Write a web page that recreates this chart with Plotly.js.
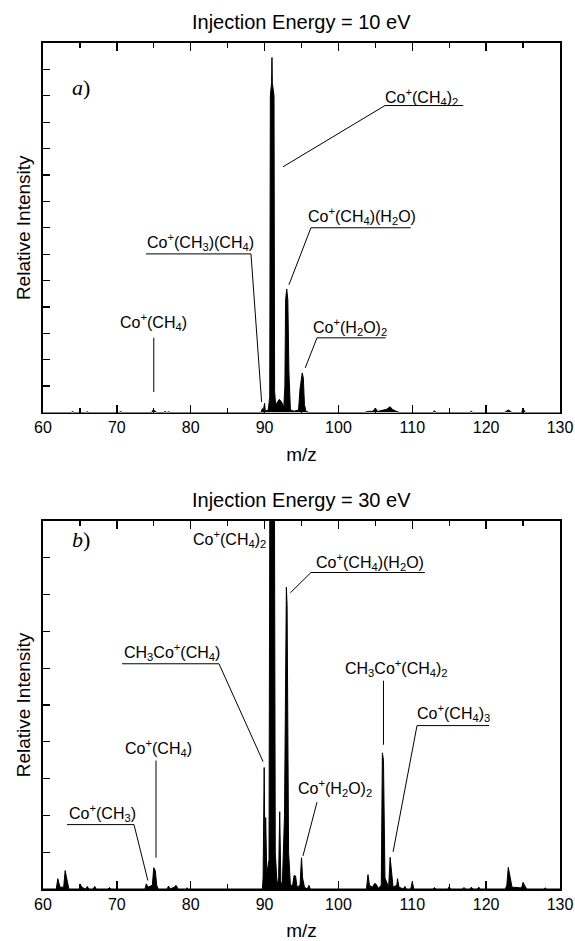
<!DOCTYPE html>
<html><head><meta charset="utf-8">
<script src="https://cdn.plot.ly/plotly-3.0.1.min.js"></script>
<style>html,body{margin:0;padding:0;background:#fff;}#chart{width:575px;height:941px;}</style>
</head><body><div id="chart"></div>
<script>
// ---- Panel a) Injection Energy = 10 eV (relative intensity, arbitrary units) ----
const mzA = [60.0, 63.8, 64.0, 64.2, 65.8, 66.0, 66.2, 70.3, 70.5, 70.7, 74.7, 74.9, 75.1, 75.4, 76.3, 76.5, 76.7, 76.8, 77.0, 77.2,
  89.5, 89.7, 89.8, 90.0, 90.1, 90.5, 90.7, 90.78, 90.95, 91.0, 91.05, 91.28, 91.36, 91.5, 91.8, 92.0, 92.3, 92.6,
  92.75, 92.85, 93.0, 93.15, 93.3, 93.5, 94.0, 94.6, 94.8, 95.0, 95.1, 95.25, 95.4, 95.6, 96.0,
  103.5, 104.0, 104.7, 105.0, 105.3, 106.0, 106.5, 107.0, 107.3, 107.8, 108.3,
  112.8, 113.0, 113.2, 117.8, 118.0, 118.2, 122.5, 123.0, 123.5, 124.8, 125.0, 125.3, 130.0];
const intA = [0, 0, 0.04, 0, 0, 0.03, 0, 0, 0.04, 0, 0, 0.1, 0.08, 0, 0, 0.04, 0, 0, 0.03, 0,
  0, 0.15, 0, 0.35, 0.05, 0.1, 0.6, 12.0, 12.5, 13.45, 12.5, 12.0, 0.8, 0.3, 0.45, 0.5, 0.4, 0.2,
  1.0, 4.27, 4.68, 4.27, 1.5, 0.1, 0.05, 0.1, 0.9, 1.3, 1.5, 1.3, 0.3, 0.05, 0,
  0, 0.04, 0.05, 0.17, 0.04, 0.08, 0.12, 0.22, 0.12, 0.05, 0,
  0, 0.07, 0, 0, 0.05, 0, 0, 0.1, 0, 0, 0.15, 0, 0];

// ---- Panel b) Injection Energy = 30 eV ----
const mzB = [60.0, 61.8, 62.0, 62.3, 62.8, 63.0, 63.2, 63.5, 64.9, 65.1, 65.4, 65.8, 66.0, 66.2, 66.8, 67.0, 67.2, 68.8, 69.0, 69.2,
  73.8, 74.0, 74.2, 74.8, 75.0, 75.2, 75.4, 75.6, 76.8, 77.0, 77.2, 77.8, 78.0, 78.3, 79.3, 79.5, 79.7,
  89.7, 89.8, 89.95, 90.05, 90.15, 90.3, 90.6, 90.75, 91.3, 91.45, 91.7, 91.9, 92.05, 92.2, 92.4,
  92.7, 92.85, 92.95, 93.05, 93.25, 93.5, 93.8, 94.0, 94.2, 94.4, 94.8, 95.0, 95.15, 95.4, 95.8, 96.0, 96.2,
  103.8, 104.0, 104.2, 104.6, 104.9, 105.1, 105.4, 105.8, 105.95, 106.1, 106.3, 106.8, 107.0, 107.15, 107.4,
  107.9, 108.0, 108.2, 108.8, 109.0, 109.2, 109.8, 110.0, 110.2, 112.8, 113.0, 113.2, 114.8, 115.0, 115.2,
  116.8, 117.0, 117.2, 117.8, 118.0, 118.2, 118.8, 119.0, 119.2,
  122.6, 122.8, 123.0, 123.2, 123.5, 124.8, 125.0, 125.2, 125.5, 127.8, 128.0, 128.2, 130.0];
const intB = [0, 0, 0.28, 0.05, 0.05, 0.5, 0.3, 0, 0, 0.1, 0.03, 0, 0.07, 0, 0, 0.07, 0, 0, 0.04, 0,
  0, 0.14, 0.05, 0.1, 0.58, 0.5, 0.1, 0, 0, 0.08, 0, 0.05, 0.1, 0, 0, 0.03, 0,
  0, 0.3, 3.3, 1.0, 1.94, 0.4, 0.8, 14, 14, 1.0, 0.1, 0.3, 2.1, 0.2, 0.1,
  2.0, 7.7, 8.2, 7.7, 1.0, 0.1, 0.1, 0.37, 0.35, 0.05, 0.1, 0.85, 0.3, 0.05, 0, 0.1, 0,
  0, 0.39, 0.1, 0.05, 0.15, 0.13, 0.02, 0.1, 3.7, 3.5, 0.3, 0.05, 0.86, 0.5, 0.05,
  0.1, 0.28, 0.05, 0, 0.07, 0, 0, 0.2, 0, 0, 0.04, 0, 0, 0.06, 0,
  0, 0.04, 0, 0, 0.05, 0, 0, 0.05, 0,
  0, 0.1, 0.59, 0.4, 0.05, 0.03, 0.18, 0.1, 0, 0, 0.03, 0, 0];

const xTickVals = [60, 70, 80, 90, 100, 110, 120, 130];
const titleA = 'Injection Energy = 10 eV';
const titleB = 'Injection Energy = 30 eV';
const xTitle = 'm/z';
const yTitle = 'Relative Intensity';

// peak labels: text, label anchor (m/z, intensity), leader polyline (m/z, intensity)
const labelsA = [
  {t: 'Co<sup>+</sup>(CH<sub>4</sub>)<sub>2</sub>', x: 111.3, y: 11.97, path: [[92.5, 9.31], [106.3, 11.63], [116.9, 11.63]]},
  {t: 'Co<sup>+</sup>(CH<sub>3</sub>)(CH<sub>4</sub>)', x: 81.3, y: 6.47, path: [[89.6, 0.4], [88.16, 6.01], [73.95, 6.01]]},
  {t: 'Co<sup>+</sup>(CH<sub>4</sub>)(H<sub>2</sub>O)', x: 103.2, y: 7.45, path: [[93.3, 4.84], [96.28, 7.0], [109.8, 7.0]]},
  {t: 'Co<sup>+</sup>(H<sub>2</sub>O)<sub>2</sub>', x: 101.6, y: 3.24, path: [[95.5, 1.69], [97.1, 2.83], [106.4, 2.83]]},
  {t: 'Co<sup>+</sup>(CH<sub>4</sub>)', x: 75.0, y: 3.43, path: [[75.0, 0.78], [75.0, 2.83]]}
];
const labelsB = [
  {t: 'Co<sup>+</sup>(CH<sub>4</sub>)<sub>2</sub>', x: 90.5, y: 9.5, anchor: 'right', path: null},
  {t: 'Co<sup>+</sup>(CH<sub>4</sub>)(H<sub>2</sub>O)', x: 104.3, y: 8.89, path: [[93.5, 8.05], [96.28, 8.6], [111.7, 8.6]]},
  {t: 'CH<sub>3</sub>Co<sup>+</sup>(CH<sub>4</sub>)', x: 77.5, y: 6.45, path: [[89.8, 3.46], [83.83, 6.12], [70.7, 6.12]]},
  {t: 'CH<sub>3</sub>Co<sup>+</sup>(CH<sub>4</sub>)<sub>2</sub>', x: 107.8, y: 6.01, path: [[106.1, 3.92], [106.1, 5.66]]},
  {t: 'Co<sup>+</sup>(CH<sub>4</sub>)<sub>3</sub>', x: 115.6, y: 4.79, path: [[107.4, 1.01], [110.64, 4.44], [120.4, 4.44]]},
  {t: 'Co<sup>+</sup>(H<sub>2</sub>O)<sub>2</sub>', x: 99.6, y: 2.75, path: [[95.2, 0.9], [97.1, 2.36]]},
  {t: 'Co<sup>+</sup>(CH<sub>4</sub>)', x: 75.6, y: 3.84, path: [[75.3, 0.85], [75.3, 3.49]]},
  {t: 'Co<sup>+</sup>(CH<sub>3</sub>)', x: 68.0, y: 2.07, path: [[74.2, 0.23], [72.32, 1.75], [63.25, 1.75]]}
];

const FONT = 'Liberation Sans, Arial, Helvetica, sans-serif';
const SERIF = 'Liberation Serif, Times New Roman, serif';

function spectrum(x, y, xa, ya) {
  return {type: 'scatter', mode: 'lines', x: x, y: y, xaxis: xa, yaxis: ya,
    line: {color: 'black', width: 1}, fill: 'tozeroy', fillcolor: 'black',
    hoverinfo: 'skip', showlegend: false};
}

function xAxis(anchor) {
  return {domain: [0, 1], range: [60, 130], anchor: anchor, tickvals: xTickVals,
    ticks: 'inside', ticklen: 8, tickwidth: 1.3, tickcolor: 'black',
    minor: {dtick: 5, tick0: 60, ticks: 'inside', ticklen: 5, tickwidth: 1.3, tickcolor: 'black', showgrid: false},
    showline: true, linewidth: 1.6, linecolor: 'black', mirror: 'ticks',
    showgrid: false, zeroline: false, tickfont: {family: FONT, size: 16, color: 'black'},
    title: {text: xTitle, font: {family: FONT, size: 19, color: 'black'}, standoff: 12}};
}
function yAxis(anchor, domain, top) {
  return {domain: domain, range: [0, top], anchor: anchor, dtick: 1, tick0: 0,
    ticks: 'inside', ticklen: 7, tickwidth: 1.3, tickcolor: 'black', showticklabels: false,
    showline: true, linewidth: 1.6, linecolor: 'black', mirror: true,
    showgrid: false, zeroline: false,
    title: {text: yTitle, font: {family: FONT, size: 19, color: 'black'}, standoff: 6}};
}

const annotations = [];
const shapes = [];
function addLabels(list, xr, yr) {
  list.forEach(l => {
    annotations.push({xref: xr, yref: yr, x: l.x, y: l.y, text: l.t, showarrow: false,
      font: {family: FONT, size: 16, color: 'black'}, xanchor: l.anchor || 'center', yanchor: 'middle'});
    if (l.path) {
      const d = l.path.map((p, i) => (i ? 'L' : 'M') + p[0] + ',' + p[1]).join(' ');
      shapes.push({type: 'path', xref: xr, yref: yr, path: d, line: {color: 'black', width: 1}});
    }
  });
}
addLabels(labelsA, 'x', 'y');
addLabels(labelsB, 'x2', 'y2');

annotations.push({xref: 'x domain', yref: 'y domain', x: 0.5, y: 1, yshift: 21, yanchor: 'middle',
  text: titleA, showarrow: false, font: {family: FONT, size: 20, color: 'black'}});
annotations.push({xref: 'x2 domain', yref: 'y2 domain', x: 0.5, y: 1, yshift: 21, yanchor: 'middle',
  text: titleB, showarrow: false, font: {family: FONT, size: 20, color: 'black'}});
annotations.push({xref: 'x', yref: 'y', x: 65.2, y: 12.3, text: '<i>a</i>)', showarrow: false,
  font: {family: SERIF, size: 22, color: 'black'}});
annotations.push({xref: 'x2', yref: 'y2', x: 65.2, y: 9.5, text: '<i>b</i>)', showarrow: false,
  font: {family: SERIF, size: 22, color: 'black'}});

const layout = {
  width: 575, height: 941,
  margin: {l: 43, r: 15, t: 43, b: 52},
  paper_bgcolor: 'white', plot_bgcolor: 'white',
  font: {family: FONT, color: 'black'},
  xaxis: xAxis('y'),
  yaxis: yAxis('x', [0.5632, 1], 14),
  xaxis2: xAxis('y2'),
  yaxis2: yAxis('x2', [0, 0.435], 10),
  annotations: annotations,
  shapes: shapes,
  showlegend: false
};

Plotly.newPlot('chart', [spectrum(mzA, intA, 'x', 'y'), spectrum(mzB, intB, 'x2', 'y2')], layout,
  {displayModeBar: false, staticPlot: true});
</script></body></html>
